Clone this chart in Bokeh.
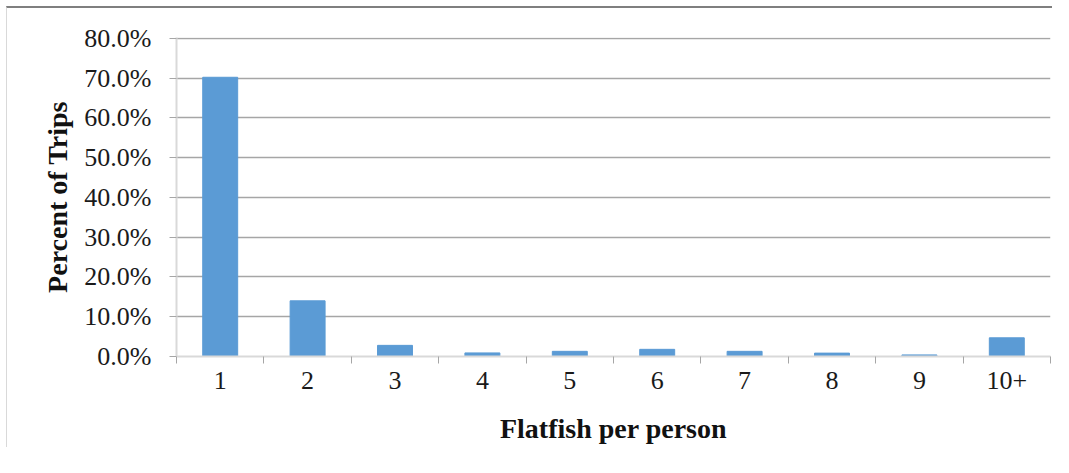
from bokeh.plotting import figure
from bokeh.models import FixedTicker, PrintfTickFormatter, Range1d
from bokeh.embed import file_html
from bokeh.resources import INLINE

categories = ["1", "2", "3", "4", "5", "6", "7", "8", "9", "10+"]
percent_of_trips = [70.2, 14.0, 2.8, 0.9, 1.3, 1.8, 1.3, 0.85, 0.4, 4.7]
y_ticks = [0, 10, 20, 30, 40, 50, 60, 70, 80]

x_pos = list(range(1, len(categories) + 1))
boundaries = [i - 0.5 for i in x_pos] + [x_pos[-1] + 0.5]

p = figure(width=1046, height=441, output_backend="svg", toolbar_location=None,
           x_range=Range1d(0.5, len(categories) + 0.5), y_range=Range1d(0, 80.2),
           min_border_left=169, min_border_right=3, min_border_top=29, min_border_bottom=93)
p.styles = {"margin-top": "6px", "margin-left": "6px",
            "border-top": "2px solid #7f7f7f", "border-left": "1px solid #d9d9d9"}
p.outline_line_color = None
p.background_fill_color = "white"

p.vbar(x=x_pos, top=percent_of_trips, width=0.4, bottom=0,
       fill_color="#5B9BD5", line_color="#5B9BD5", line_width=1)

font = "Liberation Serif"

# X axis
p.xaxis.ticker = FixedTicker(ticks=x_pos, minor_ticks=boundaries)
p.xaxis.major_label_overrides = {x: c for x, c in zip(x_pos, categories)}
p.xaxis.major_tick_line_color = None
p.xaxis.minor_tick_in = 0
p.xaxis.minor_tick_out = 7
p.xaxis.minor_tick_line_color = "#a6a6a6"
p.xaxis.axis_line_color = "#d9d9d9"
p.xaxis.axis_line_width = 2
p.xaxis.major_label_standoff = 8
p.xaxis.major_label_text_font = font
p.xaxis.major_label_text_font_size = "26px"
p.xaxis.major_label_text_color = "#1a1a1a"
p.xaxis.axis_label = "Flatfish per person"
p.xaxis.axis_label_text_font = font
p.xaxis.axis_label_text_font_style = "bold"
p.xaxis.axis_label_text_font_size = "28px"
p.xaxis.axis_label_text_color = "#111111"
p.xaxis.axis_label_standoff = 21

# Y axis
p.yaxis.ticker = FixedTicker(ticks=y_ticks)
p.yaxis.formatter = PrintfTickFormatter(format="%.1f%%")
p.yaxis.major_tick_in = 0
p.yaxis.major_tick_out = 7
p.yaxis.major_tick_line_color = "#a6a6a6"
p.yaxis.minor_tick_line_color = None
p.yaxis.axis_line_color = "#d9d9d9"
p.yaxis.axis_line_width = 2
p.yaxis.major_label_standoff = 18
p.yaxis.major_label_text_font = font
p.yaxis.major_label_text_font_size = "26px"
p.yaxis.major_label_text_color = "#1a1a1a"
p.yaxis.axis_label = "Percent of Trips"
p.yaxis.axis_label_text_font = font
p.yaxis.axis_label_text_font_style = "bold"
p.yaxis.axis_label_text_font_size = "28px"
p.yaxis.axis_label_text_color = "#111111"
p.yaxis.axis_label_standoff = 8

p.xgrid.grid_line_color = None
p.ygrid.grid_line_color = "#a6a6a6"
p.ygrid.grid_line_width = 1.5

open("out.html", "w").write(file_html(p, INLINE))
